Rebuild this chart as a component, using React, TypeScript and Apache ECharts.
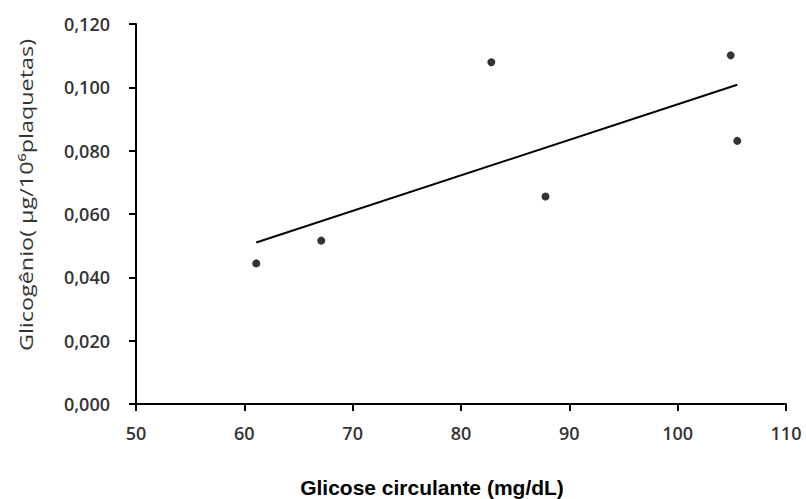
import React, { useEffect, useRef } from "react";
import * as echarts from "echarts";

// Glicose circulante (mg/dL)
const glucose: number[] = [61.1, 67.1, 82.8, 87.8, 104.9, 105.5];
// Glicogênio (µg/10^6 plaquetas)
const glycogen: number[] = [0.0444, 0.0516, 0.1079, 0.0655, 0.1101, 0.0831];
// linear trend line end points
const trendX: number[] = [61.1, 105.5];
const trendY: number[] = [0.051, 0.1008];

const xTicks = { min: 50, max: 110, interval: 10 };
const yTicks = { min: 0, max: 0.12, interval: 0.02 };

const xTitle = "Glicose circulante (mg/dL)";
const yTitle = "Glicogênio( µg/10⁶plaquetas)";

export default function App() {
  const ref = useRef<HTMLDivElement>(null);
  useEffect(() => {
    document.body.style.margin = "0";
    if (!ref.current) return;
    const chart = echarts.init(ref.current, undefined, { renderer: "svg" });
    const labelStyle = {
      fontFamily: "Open Sans",
      fontSize: 18,
      fontWeight: 600,
      color: "#333",
    };
    chart.setOption({
      animation: false,
      backgroundColor: "#fff",
      grid: { left: 136, right: 20, top: 24, bottom: 95 },
      xAxis: {
        type: "value",
        min: xTicks.min,
        max: xTicks.max,
        interval: xTicks.interval,
        splitLine: { show: false },
        axisLine: { show: true, onZero: false, lineStyle: { color: "#000", width: 2 } },
        axisTick: { show: true, inside: false, length: 7, lineStyle: { color: "#000", width: 2 } },
        axisLabel: { ...labelStyle, margin: 20 },
      },
      yAxis: {
        type: "value",
        min: yTicks.min,
        max: yTicks.max,
        interval: yTicks.interval,
        splitLine: { show: false },
        axisLine: { show: true, onZero: false, lineStyle: { color: "#000", width: 2 } },
        axisTick: { show: true, inside: false, length: 7, lineStyle: { color: "#000", width: 2 } },
        axisLabel: {
          ...labelStyle,
          margin: 26,
          formatter: (v: number) => v.toFixed(3).replace(".", ","),
        },
      },
      graphic: [
        {
          type: "text",
          x: 432,
          y: 487,
          style: {
            text: xTitle,
            font: 'bold 21px "Liberation Sans", Arial, sans-serif',
            fill: "#000",
            align: "center",
            verticalAlign: "middle",
            textAlign: "center",
            textVerticalAlign: "middle",
          },
        },
        {
          type: "text",
          x: 26,
          y: 195,
          rotation: Math.PI / 2,
          scaleX: 1.3,
          style: {
            text: yTitle,
            font: '18px "Open Sans", sans-serif',
            fill: "#333",
            align: "center",
            verticalAlign: "middle",
            textAlign: "center",
            textVerticalAlign: "middle",
          },
        },
      ],
      series: [
        {
          type: "line",
          data: trendX.map((x, i) => [x, trendY[i]]),
          showSymbol: false,
          symbol: "none",
          lineStyle: { color: "#000", width: 2 },
          silent: true,
        },
        {
          type: "scatter",
          data: glucose.map((x, i) => [x, glycogen[i]]),
          symbol: "circle",
          symbolSize: 8,
          itemStyle: { color: "#000" },
        },
      ],
    });
    return () => chart.dispose();
  }, []);
  return <div ref={ref} style={{ width: 806, height: 499 }} />;
}
